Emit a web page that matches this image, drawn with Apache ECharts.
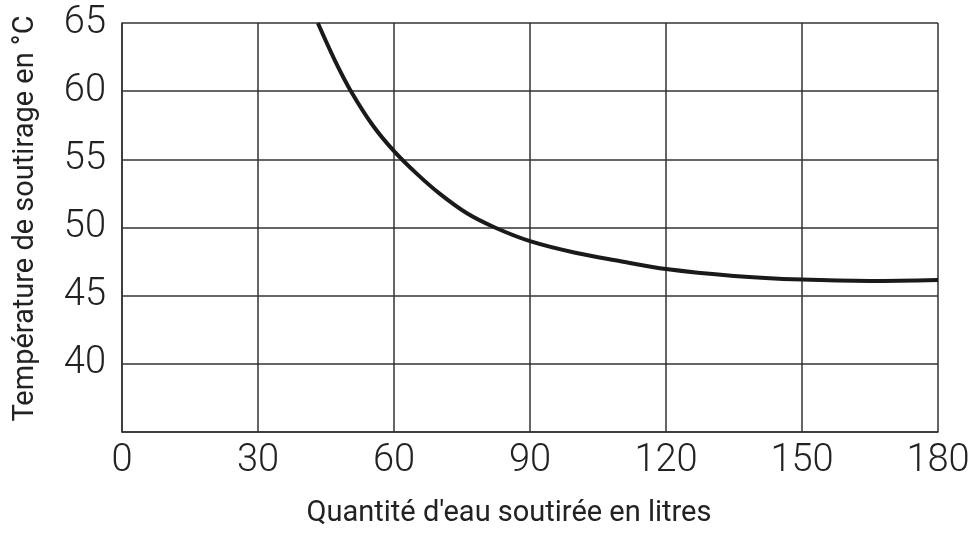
<!DOCTYPE html>
<html>
<head>
<meta charset="utf-8">
<script src="https://cdn.jsdelivr.net/npm/echarts@6/dist/echarts.min.js"></script>
<style>html,body{margin:0;padding:0;background:#fff;}#c{width:973px;height:534px;}</style>
</head>
<body>
<div id="c"></div>
<script>
var volumes = [43.2, 47, 50.6, 55.3, 60, 65, 70, 76, 82, 90, 100, 110, 120, 135, 150, 165, 180];
var temperatures = [65, 62.23, 59.94, 57.5, 55.6, 53.95, 52.5, 51.06, 50.04, 49.0, 48.15, 47.53, 46.95, 46.45, 46.18, 46.08, 46.15];
var xTicks = [0, 30, 60, 90, 120, 150, 180];
var yTicks = [40, 45, 50, 55, 60, 65];
var xTitle = "Quantité d'eau soutirée en litres";
var yTitle = "Température de soutirage en °C";

var pts = volumes.map(function (v, i) { return [v, temperatures[i]]; });
var font = 'Roboto';
var chart = echarts.init(document.getElementById('c'));
chart.setOption({
  animation: false,
  grid: { left: 122, right: 35, top: 23, bottom: 102 },
  xAxis: {
    type: 'value', min: 0, max: 180, interval: 30,
    name: xTitle, nameLocation: 'middle', nameGap: 67,
    nameTextStyle: { fontFamily: font, fontSize: 29, color: '#222', padding: [0, 42, 0, 0] },
    axisLine: { show: true, lineStyle: { color: '#333', width: 1.5 } },
    axisTick: { show: false },
    axisLabel: { fontFamily: font, fontWeight: 300, fontSize: 38, color: '#222', margin: 10,
      formatter: function (v) { return xTicks.indexOf(v) >= 0 ? String(v) : ''; } },
    splitLine: { show: true, lineStyle: { color: '#333', width: 1.5 } }
  },
  yAxis: {
    type: 'value', min: 35, max: 65, interval: 5,
    name: yTitle, nameLocation: 'middle', nameGap: 82, nameRotate: 90,
    nameTextStyle: { fontFamily: font, fontSize: 29, color: '#222', padding: [0, 0, 0, 18] },
    axisLine: { show: true, lineStyle: { color: '#333', width: 1.5 } },
    axisTick: { show: false },
    axisLabel: { fontFamily: font, fontWeight: 300, fontSize: 38, color: '#222', margin: 16,
      formatter: function (v) { return yTicks.indexOf(v) >= 0 ? String(v) : ''; } },
    splitLine: { show: true, lineStyle: { color: '#333', width: 1.5 } }
  },
  series: [{
    type: 'line', data: pts, smooth: 0.35, showSymbol: false, clip: true,
    lineStyle: { color: '#1a1a1a', width: 4 }
  }]
});
</script>
</body>
</html>
